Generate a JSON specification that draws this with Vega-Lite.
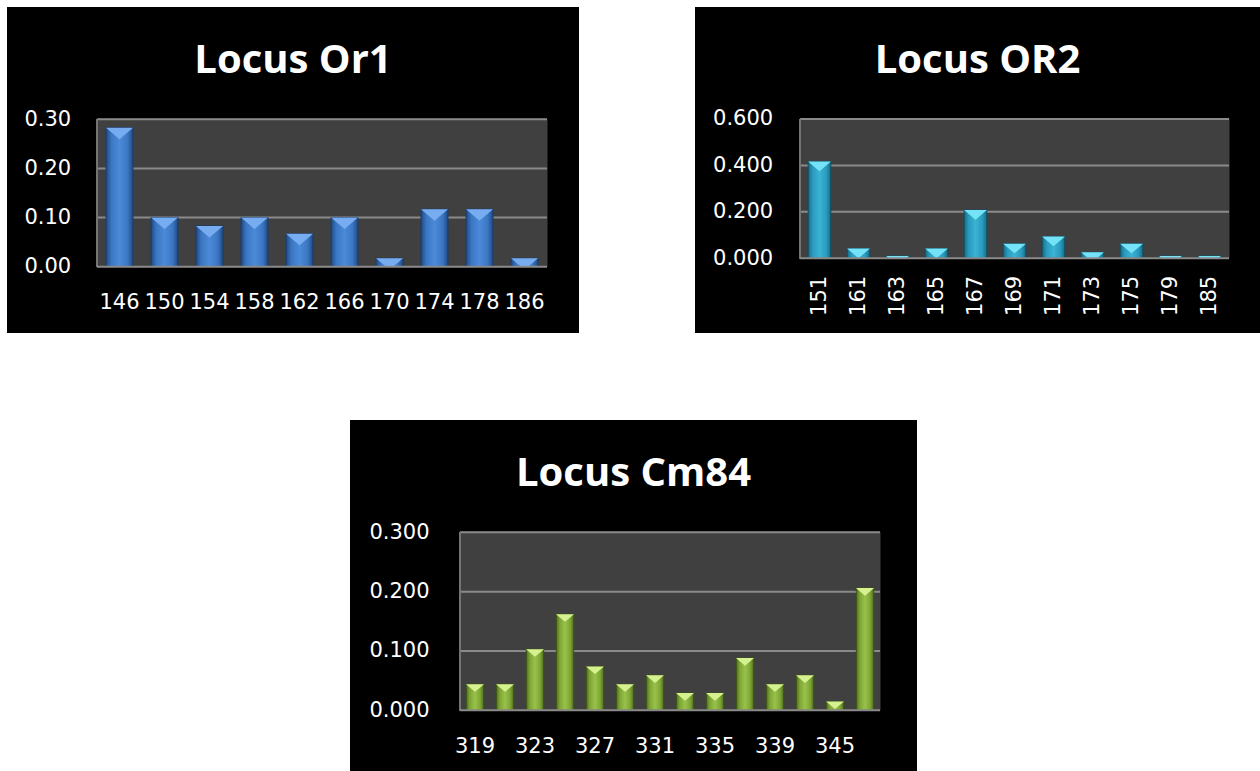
{
  "$schema": "https://vega.github.io/schema/vega-lite/v6.json",
  "background": "white",
  "padding": {"left": 7, "top": 7, "right": 0, "bottom": 0},
  "config": {
    "view": {"fill": "black", "stroke": null},
    "axis": {"labelFont": "DejaVu Sans", "labelFontSize": 21, "labelColor": "white", "ticks": false, "domain": false, "grid": false, "labelOverlap": false, "zindex": 1}
  },
  "datasets": {
    "or1": [
      {"allele": "146", "freq": 0.283}, {"allele": "150", "freq": 0.100}, {"allele": "154", "freq": 0.083},
      {"allele": "158", "freq": 0.100}, {"allele": "162", "freq": 0.067}, {"allele": "166", "freq": 0.100},
      {"allele": "170", "freq": 0.017}, {"allele": "174", "freq": 0.117}, {"allele": "178", "freq": 0.117},
      {"allele": "186", "freq": 0.017}
    ],
    "or2": [
      {"allele": "151", "freq": 0.417}, {"allele": "161", "freq": 0.042}, {"allele": "163", "freq": 0.010},
      {"allele": "165", "freq": 0.042}, {"allele": "167", "freq": 0.208}, {"allele": "169", "freq": 0.063},
      {"allele": "171", "freq": 0.094}, {"allele": "173", "freq": 0.026}, {"allele": "175", "freq": 0.063},
      {"allele": "179", "freq": 0.010}, {"allele": "185", "freq": 0.010}
    ],
    "cm84": [
      {"allele": "319", "freq": 0.044}, {"allele": "321", "freq": 0.044}, {"allele": "323", "freq": 0.103},
      {"allele": "325", "freq": 0.162}, {"allele": "327", "freq": 0.074}, {"allele": "329", "freq": 0.044},
      {"allele": "331", "freq": 0.059}, {"allele": "333", "freq": 0.029}, {"allele": "335", "freq": 0.029},
      {"allele": "337", "freq": 0.088}, {"allele": "339", "freq": 0.044}, {"allele": "341", "freq": 0.059},
      {"allele": "345", "freq": 0.015}, {"allele": "347", "freq": 0.206}
    ]
  },
  "vconcat": [
    {
      "hconcat": [
        {
          "width": 572, "height": 326,
          "title": {"text": "Locus Or1", "font": "Open Sans", "fontSize": 40, "fontWeight": "bold", "color": "white", "anchor": "middle", "frame": "group", "baseline": "alphabetic", "offset": -106},
          "data": {"name": "or1"},
          "encoding": {
            "x": {"field": "allele", "type": "nominal", "sort": null,
                  "scale": {"paddingInner": 0, "paddingOuter": 0, "range": [88.7, 542.3], "round": true},
                  "axis": {"title": null, "labelAngle": 0, "labelBaseline": "alphabetic", "labelPadding": 41.6, "offset": -66.3}}
          },
          "layer": [
            {"mark": {"type": "rect", "fill": "#404040", "stroke": "#404040", "strokeWidth": 1},
             "encoding": {"y": {"datum": 0, "type": "quantitative", "scale": {"domain": [-0.1349, 0.5286], "nice": false, "zero": false},
                                "axis": {"title": null, "values": [0, 0.1, 0.2, 0.3], "format": ".2f", "labelPadding": 25, "offset": -88.7}},
                          "y2": {"datum": 0.3}}},
            {"mark": {"type": "rect", "filled": false, "stroke": "#8a8a8a", "strokeWidth": 2},
             "encoding": {"y": {"datum": 0.1, "type": "quantitative", "axis": {"title": null}}, "y2": {"datum": 0.1}}},
            {"mark": {"type": "rect", "filled": false, "stroke": "#8a8a8a", "strokeWidth": 2},
             "encoding": {"y": {"datum": 0.2, "type": "quantitative", "axis": {"title": null}}, "y2": {"datum": 0.2}}},
            {"mark": {"type": "rect", "filled": false, "stroke": "#8a8a8a", "strokeWidth": 2},
             "encoding": {"y": {"datum": 0.3, "type": "quantitative", "axis": {"title": null}}, "y2": {"datum": 0.3}}},
            {"mark": {"type": "rule", "color": "#747474", "strokeWidth": 2},
             "encoding": {"x": {"datum": "146", "type": "nominal", "bandPosition": 0, "axis": {"title": null}},
                          "y": {"datum": 0, "type": "quantitative", "axis": {"title": null}}, "y2": {"datum": 0.3}}},
            {"mark": {"type": "bar", "width": {"band": 0.6}, "stroke": "#1a3a66", "strokeWidth": 1,
                      "fill": {"gradient": "linear", "x1": 0, "x2": 1, "y1": 0, "y2": 0,
                               "stops": [{"offset": 0, "color": "#1f4a85"}, {"offset": 0.2, "color": "#3b76c2"}, {"offset": 0.5, "color": "#4b8ad9"}, {"offset": 0.8, "color": "#3b76c2"}, {"offset": 1, "color": "#1f4a85"}]}},
             "encoding": {"y": {"field": "freq", "type": "quantitative", "axis": {"title": null}}}},
            {"mark": {"type": "point", "shape": "M -1 0 L 1 0 L 0 0.85 Z", "size": 729, "filled": true, "fill": "#77adf0", "opacity": 1, "strokeWidth": 0},
             "encoding": {"y": {"field": "freq", "type": "quantitative", "axis": {"title": null}}}},
            {"mark": {"type": "rect", "fill": "black", "strokeWidth": 0},
             "encoding": {"y": {"datum": 0, "type": "quantitative", "axis": {"title": null}}, "y2": {"datum": -0.03}}},
            {"mark": {"type": "rect", "filled": false, "stroke": "#8a8a8a", "strokeWidth": 2},
             "encoding": {"y": {"datum": 0, "type": "quantitative", "axis": {"title": null}}, "y2": {"datum": 0}}}
          ]
        },
        {
          "width": 565, "height": 326,
          "title": {"text": "Locus OR2", "font": "Open Sans", "fontSize": 40, "fontWeight": "bold", "color": "white", "anchor": "middle", "frame": "group", "baseline": "alphabetic", "offset": -106},
          "data": {"name": "or2"},
          "encoding": {
            "x": {"field": "allele", "type": "nominal", "sort": null,
                  "scale": {"paddingInner": 0, "paddingOuter": 0, "range": [102.7, 536.7], "round": true},
                  "axis": {"title": null, "labelAngle": -90, "labelPadding": 17, "offset": -74.7}}
          },
          "layer": [
            {"mark": {"type": "rect", "fill": "#404040", "stroke": "#404040", "strokeWidth": 1},
             "encoding": {"y": {"datum": 0, "type": "quantitative", "scale": {"domain": [-0.3217, 1.0823], "nice": false, "zero": false},
                                "axis": {"title": null, "values": [0, 0.2, 0.4, 0.6], "format": ".3f", "labelPadding": 25, "offset": -102.7}},
                          "y2": {"datum": 0.6}}},
            {"mark": {"type": "rect", "filled": false, "stroke": "#8a8a8a", "strokeWidth": 2},
             "encoding": {"y": {"datum": 0.2, "type": "quantitative", "axis": {"title": null}}, "y2": {"datum": 0.2}}},
            {"mark": {"type": "rect", "filled": false, "stroke": "#8a8a8a", "strokeWidth": 2},
             "encoding": {"y": {"datum": 0.4, "type": "quantitative", "axis": {"title": null}}, "y2": {"datum": 0.4}}},
            {"mark": {"type": "rect", "filled": false, "stroke": "#8a8a8a", "strokeWidth": 2},
             "encoding": {"y": {"datum": 0.6, "type": "quantitative", "axis": {"title": null}}, "y2": {"datum": 0.6}}},
            {"mark": {"type": "rule", "color": "#747474", "strokeWidth": 2},
             "encoding": {"x": {"datum": "151", "type": "nominal", "bandPosition": 0, "axis": {"title": null}},
                          "y": {"datum": 0, "type": "quantitative", "axis": {"title": null}}, "y2": {"datum": 0.6}}},
            {"mark": {"type": "bar", "width": {"band": 0.58}, "stroke": "#124f63", "strokeWidth": 1,
                      "fill": {"gradient": "linear", "x1": 0, "x2": 1, "y1": 0, "y2": 0,
                               "stops": [{"offset": 0, "color": "#176b85"}, {"offset": 0.2, "color": "#2a9bbd"}, {"offset": 0.5, "color": "#3ab3d6"}, {"offset": 0.8, "color": "#2a9bbd"}, {"offset": 1, "color": "#176b85"}]}},
             "encoding": {"y": {"field": "freq", "type": "quantitative", "axis": {"title": null}}}},
            {"mark": {"type": "point", "shape": "M -1 0 L 1 0 L 0 0.85 Z", "size": 520, "filled": true, "fill": "#74e3f7", "opacity": 1, "strokeWidth": 0},
             "encoding": {"y": {"field": "freq", "type": "quantitative", "axis": {"title": null}}}},
            {"mark": {"type": "rect", "fill": "black", "strokeWidth": 0},
             "encoding": {"y": {"datum": 0, "type": "quantitative", "axis": {"title": null}}, "y2": {"datum": -0.06}}},
            {"mark": {"type": "rect", "filled": false, "stroke": "#8a8a8a", "strokeWidth": 2},
             "encoding": {"y": {"datum": 0, "type": "quantitative", "axis": {"title": null}}, "y2": {"datum": 0}}}
          ]
        }
      ],
      "spacing": 116
    },
    {
      "width": 567, "height": 351,
      "title": {"text": "Locus Cm84", "font": "Open Sans", "fontSize": 40, "fontWeight": "bold", "color": "white", "anchor": "middle", "frame": "group", "baseline": "alphabetic", "offset": -106},
      "data": {"name": "cm84"},
      "encoding": {
        "x": {"field": "allele", "type": "nominal", "sort": null,
              "scale": {"paddingInner": 0, "paddingOuter": 0, "range": [104, 536.7], "round": true},
              "axis": {"title": null, "labelAngle": 0, "labelBaseline": "alphabetic", "labelPadding": 42.4, "offset": -60.7,
                       "values": ["319", "323", "327", "331", "335", "339", "345"]}}
      },
      "layer": [
        {"mark": {"type": "rect", "fill": "#404040", "stroke": "#404040", "strokeWidth": 1},
         "encoding": {"y": {"datum": 0, "type": "quantitative", "scale": {"domain": [-0.1023, 0.4893], "nice": false, "zero": false},
                            "axis": {"title": null, "values": [0, 0.1, 0.2, 0.3], "format": ".3f", "labelPadding": 25, "offset": -104}},
                      "y2": {"datum": 0.3}}},
        {"mark": {"type": "rect", "filled": false, "stroke": "#8a8a8a", "strokeWidth": 2},
         "encoding": {"y": {"datum": 0.1, "type": "quantitative", "axis": {"title": null}}, "y2": {"datum": 0.1}}},
        {"mark": {"type": "rect", "filled": false, "stroke": "#8a8a8a", "strokeWidth": 2},
         "encoding": {"y": {"datum": 0.2, "type": "quantitative", "axis": {"title": null}}, "y2": {"datum": 0.2}}},
        {"mark": {"type": "rect", "filled": false, "stroke": "#8a8a8a", "strokeWidth": 2},
         "encoding": {"y": {"datum": 0.3, "type": "quantitative", "axis": {"title": null}}, "y2": {"datum": 0.3}}},
        {"mark": {"type": "rule", "color": "#747474", "strokeWidth": 2},
         "encoding": {"x": {"datum": "319", "type": "nominal", "bandPosition": 0, "axis": {"title": null}},
                      "y": {"datum": 0, "type": "quantitative", "axis": {"title": null}}, "y2": {"datum": 0.3}}},
        {"mark": {"type": "bar", "width": {"band": 0.58}, "stroke": "#3c5414", "strokeWidth": 1,
                  "fill": {"gradient": "linear", "x1": 0, "x2": 1, "y1": 0, "y2": 0,
                           "stops": [{"offset": 0, "color": "#4f6e1c"}, {"offset": 0.2, "color": "#7ea536"}, {"offset": 0.5, "color": "#99c24a"}, {"offset": 0.8, "color": "#7ea536"}, {"offset": 1, "color": "#4f6e1c"}]}},
         "encoding": {"y": {"field": "freq", "type": "quantitative", "axis": {"title": null}}}},
        {"mark": {"type": "point", "shape": "M -1 0 L 1 0 L 0 0.85 Z", "size": 324, "filled": true, "fill": "#d6f290", "opacity": 1, "strokeWidth": 0},
         "encoding": {"y": {"field": "freq", "type": "quantitative", "axis": {"title": null}}}},
        {"mark": {"type": "rect", "fill": "black", "strokeWidth": 0},
         "encoding": {"y": {"datum": 0, "type": "quantitative", "axis": {"title": null}}, "y2": {"datum": -0.025}}},
        {"mark": {"type": "rect", "filled": false, "stroke": "#8a8a8a", "strokeWidth": 2},
         "encoding": {"y": {"datum": 0, "type": "quantitative", "axis": {"title": null}}, "y2": {"datum": 0}}}
      ]
    }
  ],
  "spacing": 87,
  "center": true
}
